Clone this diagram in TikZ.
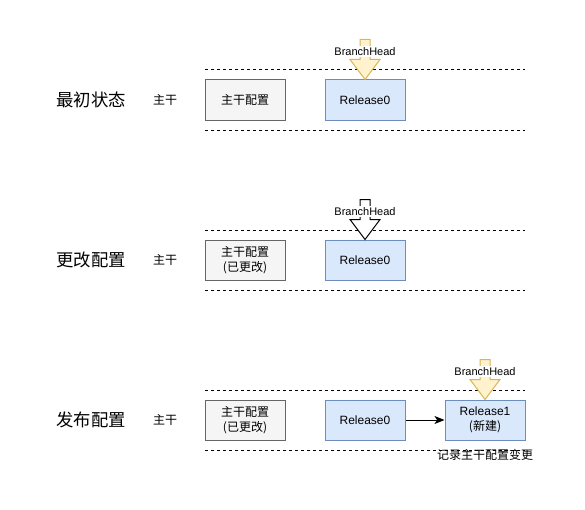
\documentclass[tikz,border=0pt]{standalone}
\usepackage{fontspec}
\setmainfont{Liberation Sans}
\newfontfamily\cjk{Noto Sans CJK SC}
\usetikzlibrary{arrows.meta,calc}
\definecolor{mainfill}{HTML}{F5F5F5}
\definecolor{maindraw}{HTML}{666666}
\definecolor{relfill}{HTML}{DAE8FC}
\definecolor{reldraw}{HTML}{6C8EBF}
\definecolor{headfill}{HTML}{FFF2CC}
\definecolor{headdraw}{HTML}{D6B656}
\begin{document}
\begin{tikzpicture}[x=0.75pt,y=-0.75pt,line width=0.75pt,
  basebox/.style={minimum width=60pt,minimum height=30pt,inner sep=0pt,align=center,font=\fontsize{9}{11}\selectfont},
  mainbox/.style={basebox,draw=maindraw,fill=mainfill},
  relbox/.style={basebox,draw=reldraw,fill=relfill},
  lane/.style={dash pattern=on 2.25pt off 2.25pt},
  rowtitle/.style={font=\cjk\fontsize{13}{15}\selectfont},
  trunk/.style={font=\cjk\fontsize{9}{11}\selectfont},
  headlabel/.style={fill=white,inner sep=1pt,font=\fontsize{8.25}{10}\selectfont},
  yellowhead/.style={draw=headdraw,fill=headfill},
  whitehead/.style={draw=black,fill=white},
  link/.style={-{Stealth[length=7.5pt,width=6pt,inset=2pt]}}
]
\useasboundingbox (0,0) rectangle (585,510);

% lanes
\foreach \y in {70,130,230,290,390,450}{
  \coordinate (l\y a) at (205,\y);
  \coordinate (l\y b) at (525,\y);
  \draw[lane] (l\y a) -- (l\y b);
}

% row 1
\node[rowtitle] (t1) at (91,100) {最初状态};
\node[trunk] (k1) at (165,100) {主干};
\node[mainbox] (m1) at (245,100) {\cjk 主干配置};
\node[relbox] (r1) at (365,100) {Release0};

% row 2
\node[rowtitle] (t2) at (91,260) {更改配置};
\node[trunk] (k2) at (165,260) {主干};
\node[mainbox] (m2) at (245,260) {\cjk 主干配置\\\cjk (已更改)};
\node[relbox] (r2) at (365,260) {Release0};

% row 3
\node[rowtitle] (t3) at (91,420) {发布配置};
\node[trunk] (k3) at (165,420) {主干};
\node[mainbox] (m3) at (245,420) {\cjk 主干配置\\\cjk (已更改)};
\node[relbox] (r3) at (365,420) {Release0};
\node[relbox] (r4) at (485,420) {Release1\\\cjk (新建)};
\node[trunk] (note) at (485,455) {记录主干配置变更};
\draw[link] (r3) -- (r4);

% block arrows
\draw[yellowhead,shift={(r1.north)}] (-5,-40) -- (5,-40) -- (5,-20) -- (15,-20) -- (0,0) -- (-15,-20) -- (-5,-20) -- cycle;
\node[headlabel] (h1) at ($(r1.north)+(0,-28)$) {BranchHead};

\draw[whitehead,shift={(r2.north)}] (-5,-40) -- (5,-40) -- (5,-20) -- (15,-20) -- (0,0) -- (-15,-20) -- (-5,-20) -- cycle;
\node[headlabel] (h2) at ($(r2.north)+(0,-28)$) {BranchHead};

\draw[yellowhead,shift={(r4.north)}] (-5,-40) -- (5,-40) -- (5,-20) -- (15,-20) -- (0,0) -- (-15,-20) -- (-5,-20) -- cycle;
\node[headlabel] (h3) at ($(r4.north)+(0,-28)$) {BranchHead};
\end{tikzpicture}
\end{document}
